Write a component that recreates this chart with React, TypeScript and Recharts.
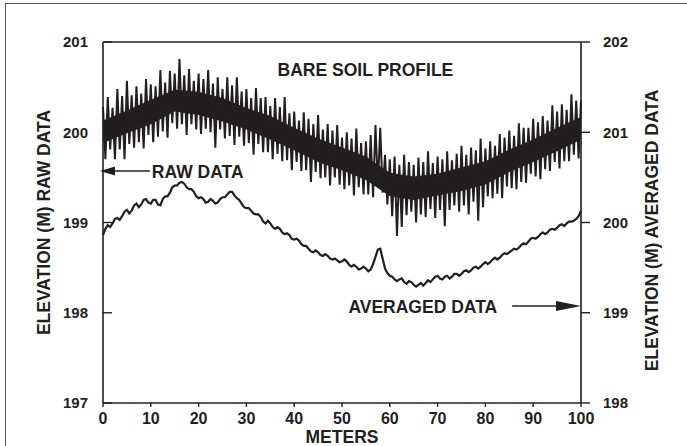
import {
  ComposedChart,
  Area,
  Line,
  XAxis,
  YAxis,
  ReferenceLine,
  ReferenceDot,
} from "recharts";

// elevation, left axis (m), read at each whole meter: upper spikes of the raw trace
const rawHigh = [
  200.28, 200.39, 200.27, 200.48, 200.4, 200.57, 200.41, 200.51, 200.43, 200.59,
  200.53, 200.51, 200.69, 200.55, 200.68, 200.65, 200.81, 200.63, 200.7, 200.57,
  200.65, 200.59, 200.69, 200.54, 200.61, 200.48, 200.61, 200.52, 200.61, 200.45,
  200.48, 200.38, 200.49, 200.38, 200.39, 200.29, 200.38, 200.28, 200.39, 200.21,
  200.23, 200.13, 200.22, 200.15, 200.09, 200.19, 200.03, 200.09, 200.02, 200.08,
  199.94, 200.0, 199.93, 200.04, 199.88, 199.9, 199.97, 200.08, 200.05, 199.75,
  199.7, 199.73, 199.64, 199.75, 199.67, 199.64, 199.72, 199.67, 199.79, 199.66,
  199.73, 199.7, 199.79, 199.69, 199.76, 199.85, 199.75, 199.83, 199.8, 199.93,
  199.82, 199.9, 199.85, 199.98, 199.94, 200.02, 199.96, 200.1, 200.05, 200.05,
  200.15, 200.11, 200.18, 200.13, 200.3, 200.23, 200.31, 200.25, 200.42, 200.35,
  200.35,
];

// lower spikes of the raw trace, read half a meter later (0.5, 1.5 ... 99.5)
const rawLow = [
  199.7, 199.81, 199.7, 199.81, 199.7, 199.87, 199.83, 199.89, 199.82, 199.97,
  199.89, 199.95, 200.01, 199.94, 200.1, 200.04, 200.09, 199.97, 200.09, 200.03,
  199.98, 200.04, 200.0, 199.83, 200.03, 199.93, 199.96, 199.86, 199.95, 199.85,
  199.88, 199.75, 199.87, 199.78, 199.78, 199.7, 199.76, 199.68, 199.69, 199.58,
  199.67, 199.57, 199.58, 199.45, 199.56, 199.49, 199.5, 199.41, 199.5, 199.42,
  199.37, 199.41, 199.3, 199.39, 199.31, 199.31, 199.28, 199.4, 199.33, 199.2,
  199.07, 198.85, 198.95, 199.08, 199.12, 199.0, 199.09, 199.06, 199.15, 199.05,
  199.14, 198.96, 199.14, 199.19, 199.12, 199.19, 199.09, 199.23, 199.02, 199.17,
  199.29, 199.27, 199.32, 199.27, 199.4, 199.38, 199.37, 199.45, 199.44, 199.54,
  199.51, 199.48, 199.59, 199.57, 199.67, 199.6, 199.68, 199.68, 199.75, 199.71,
];

// solid core of the raw band, read every 5 m (0, 5 ... 100)
const coreTop = [
  200.13, 200.24, 200.36, 200.47, 200.45, 200.38, 200.27, 200.18, 200.05, 199.93,
  199.83, 199.73, 199.55, 199.51, 199.54, 199.61, 199.68, 199.81, 199.92, 200.05,
  200.17,
];
const coreBottom = [
  199.88, 199.99, 200.09, 200.23, 200.19, 200.12, 200.03, 199.92, 199.8, 199.67,
  199.58, 199.47, 199.29, 199.25, 199.3, 199.35, 199.42, 199.56, 199.67, 199.79,
  199.92,
];

// averaged trace, right axis (m), one value per meter
const averaged = [
  199.86, 199.97, 199.99, 200.05, 200.07, 200.14, 200.13, 200.21, 200.2, 200.26,
  200.21, 200.25, 200.19, 200.29, 200.33, 200.41, 200.44, 200.43, 200.37, 200.34,
  200.27, 200.26, 200.23, 200.24, 200.22, 200.28, 200.31, 200.34, 200.27, 200.21,
  200.16, 200.13, 200.09, 200.06, 199.99, 199.99, 199.93, 199.93, 199.87, 199.86,
  199.81, 199.8, 199.74, 199.71, 199.67, 199.67, 199.63, 199.63, 199.59, 199.58,
  199.57, 199.57, 199.51, 199.51, 199.49, 199.49, 199.48, 199.62, 199.71, 199.49,
  199.41, 199.37, 199.37, 199.34, 199.35, 199.31, 199.31, 199.3, 199.36, 199.37,
  199.41, 199.37, 199.41, 199.4, 199.43, 199.43, 199.47, 199.47, 199.51, 199.51,
  199.56, 199.56, 199.61, 199.61, 199.66, 199.67, 199.71, 199.72, 199.77, 199.79,
  199.83, 199.84, 199.89, 199.89, 199.93, 199.94, 199.98, 199.99, 200.01, 200.04,
  200.13,
];

// averaged trace between the whole meters (0.5, 1.5 ... 99.5)
const averagedHalf = [
  199.93, 199.95, 200.04, 200.03, 200.12, 200.1, 200.19, 200.17, 200.25, 200.22,
  200.25, 200.2, 200.26, 200.29, 200.39, 200.41, 200.45, 200.39, 200.37, 200.29,
  200.28, 200.22, 200.26, 200.21, 200.26, 200.28, 200.34, 200.3, 200.25, 200.17,
  200.16, 200.1, 200.09, 200.01, 200.02, 199.95, 199.95, 199.89, 199.88, 199.82,
  199.82, 199.76, 199.74, 199.68, 199.69, 199.64, 199.65, 199.6, 199.6, 199.56,
  199.59, 199.53, 199.53, 199.48, 199.51, 199.46, 199.54, 199.7, 199.6, 199.44,
  199.4, 199.35, 199.38, 199.32, 199.34, 199.29, 199.33, 199.33, 199.34, 199.4,
  199.38, 199.4, 199.38, 199.43, 199.41, 199.46, 199.45, 199.5, 199.49, 199.54,
  199.54, 199.59, 199.59, 199.64, 199.65, 199.69, 199.7, 199.75, 199.76, 199.82,
  199.82, 199.87, 199.87, 199.92, 199.92, 199.97, 199.96, 200.01, 200.02, 200.07,
];

const meterTicks = [0, 10, 20, 30, 40, 50, 60, 70, 80, 90, 100];
const rawTicks = [197, 198, 199, 200, 201];
const avgTicks = [198, 199, 200, 201, 202];

type Row = { m: number; raw: number; avg: number; core?: [number, number] };
const rows: Row[] = [];
averaged.forEach((avg, m) => {
  const row: Row = { m, raw: rawHigh[m], avg };
  if (m % 5 === 0) row.core = [coreBottom[m / 5], coreTop[m / 5]];
  rows.push(row);
  if (m < rawLow.length) rows.push({ m: m + 0.5, raw: rawLow[m], avg: averagedHalf[m] });
});

const INK = "#231f20";
const FONT = "'Liberation Sans', Arial, Helvetica, sans-serif";

const tickStyle = { fill: INK, fontSize: 15, fontWeight: 700, fontFamily: FONT };

function AxisTitle({ viewBox, value, dx, dy }: any) {
  const cx = viewBox.x + dx;
  const cy = viewBox.y + viewBox.height / 2 + dy;
  return (
    <text
      x={cx}
      y={cy}
      transform={`rotate(-90, ${cx}, ${cy})`}
      textAnchor="middle"
      dominantBaseline="central"
      fill={INK}
      fontSize={17.5}
      fontWeight={700}
      fontFamily={FONT}
    >
      {value}
    </text>
  );
}

function RawArrow(props: any) {
  const { x1, y1, x2 } = props;
  const tip = x1 - 3;
  return (
    <g>
      <line x1={tip + 12} y1={y1} x2={x2} y2={y1} stroke={INK} strokeWidth={1.6} />
      <polygon points={`${tip},${y1} ${tip + 15},${y1 - 4.5} ${tip + 15},${y1 + 4.5}`} fill={INK} />
      <text x={x2 + 2} y={y1 + 1} dominantBaseline="central" fill={INK} fontSize={17.5} fontWeight={700} fontFamily={FONT}>
        RAW DATA
      </text>
    </g>
  );
}

function AvgArrow(props: any) {
  const { x1, y1, x2 } = props;
  return (
    <g>
      <line x1={x1} y1={y1} x2={x2 - 20} y2={y1} stroke={INK} strokeWidth={1.6} />
      <polygon points={`${x2},${y1} ${x2 - 25},${y1 - 5} ${x2 - 25},${y1 + 5}`} fill={INK} />
      <text x={x1 - 15} y={y1 + 1.5} textAnchor="end" dominantBaseline="central" fill={INK} fontSize={17.5} fontWeight={700} fontFamily={FONT}>
        AVERAGED DATA
      </text>
    </g>
  );
}

function ChartTitle({ cx, cy }: any) {
  return (
    <text x={cx} y={cy} textAnchor="middle" dominantBaseline="central" fill={INK} fontSize={17.5} fontWeight={700} fontFamily={FONT}>
      BARE SOIL PROFILE
    </text>
  );
}

export default function App() {
  return (
    <div
      style={{
        position: "absolute",
        left: 0,
        top: 0,
        width: 687,
        height: 446,
        overflow: "hidden",
        background: "#fff",
      }}
    >
      <div
        style={{
          position: "absolute",
          left: 5,
          top: 3,
          width: 720,
          height: 520,
          border: "1.5px solid #555",
        }}
      />
      <div style={{ position: "absolute", left: 0, top: 0 }}>
        <ComposedChart
          width={687}
          height={446}
          data={rows}
          margin={{ top: 42, right: 0, bottom: 0, left: 0 }}
        >
          <XAxis
            dataKey="m"
            type="number"
            domain={[0, 100]}
            ticks={meterTicks}
            height={43}
            tickSize={4}
            tickMargin={6}
            axisLine={{ stroke: INK, strokeWidth: 1.6 }}
            tickLine={{ stroke: INK, strokeWidth: 1.4 }}
            tick={{ ...tickStyle, fontSize: 16 }}
            label={{
              value: "METERS",
              position: "insideBottom",
              offset: 3,
              fill: INK,
              fontSize: 17.5,
              fontWeight: 700,
              fontFamily: FONT,
            }}
          />
          <YAxis
            yAxisId="left"
            orientation="left"
            domain={[197, 201]}
            ticks={rawTicks}
            width={103}
            tickSize={-9}
            tickMargin={24}
            axisLine={{ stroke: INK, strokeWidth: 1.6 }}
            tickLine={{ stroke: INK, strokeWidth: 1.4 }}
            tick={tickStyle}
            label={{
              content: (p: any) => (
                <AxisTitle viewBox={p.viewBox} value="ELEVATION (M) RAW DATA" dx={44} dy={0} />
              ),
            }}
          />
          <YAxis
            yAxisId="right"
            orientation="right"
            domain={[198, 202]}
            ticks={avgTicks}
            width={106}
            tickSize={9}
            tickMargin={13}
            axisLine={{ stroke: INK, strokeWidth: 1.6 }}
            tickLine={{ stroke: INK, strokeWidth: 1.4 }}
            tick={tickStyle}
            label={{
              content: (p: any) => (
                <AxisTitle viewBox={p.viewBox} value="ELEVATION (M) AVERAGED DATA" dx={71} dy={8} />
              ),
            }}
          />
          <ReferenceLine yAxisId="left" y={201} stroke={INK} strokeWidth={1.6} />
          <Area
            yAxisId="left"
            dataKey="core"
            type="linear"
            stroke="none"
            fill={INK}
            fillOpacity={1}
            connectNulls
            isAnimationActive={false}
          />
          <Line
            yAxisId="left"
            dataKey="raw"
            type="linear"
            stroke={INK}
            strokeWidth={2}
            dot={false}
            isAnimationActive={false}
          />
          <Line
            yAxisId="right"
            dataKey="avg"
            type="linear"
            stroke={INK}
            strokeWidth={2.2}
            dot={false}
            isAnimationActive={false}
          />
          <ReferenceLine
            yAxisId="left"
            segment={[
              { x: 0, y: 199.57 },
              { x: 9.8, y: 199.57 },
            ]}
            shape={<RawArrow />}
            ifOverflow="visible"
          />
          <ReferenceLine
            yAxisId="right"
            segment={[
              { x: 85.6, y: 199.075 },
              { x: 100, y: 199.075 },
            ]}
            shape={<AvgArrow />}
            ifOverflow="visible"
          />
          <ReferenceDot
            yAxisId="left"
            x={54.9}
            y={200.69}
            r={0}
            shape={<ChartTitle />}
            ifOverflow="visible"
          />
        </ComposedChart>
      </div>
    </div>
  );
}
